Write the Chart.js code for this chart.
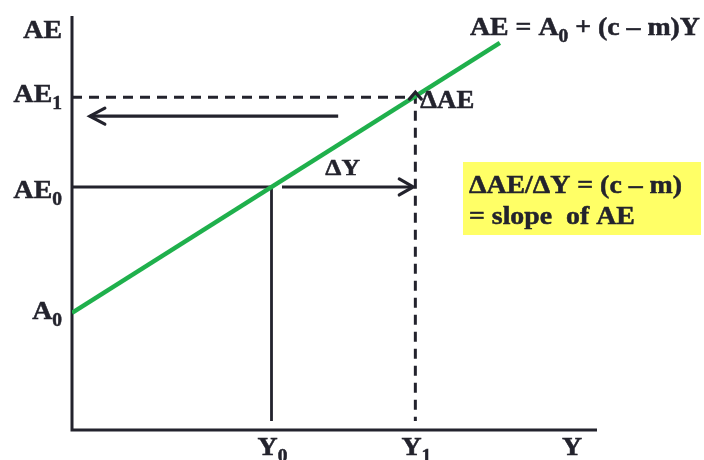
<!DOCTYPE html>
<html><head><meta charset="utf-8">
<script src="https://cdn.jsdelivr.net/npm/chart.js@4/dist/chart.umd.min.js"></script>
<style>html,body{margin:0;padding:0;background:#fff;}#wrap{width:704px;height:460px;position:relative}</style>
</head><body><div id="wrap"><canvas id="c" width="704" height="460"></canvas></div>
<script>
// ---- data ----
const incomeLevels   = [38, 65.4];            // Y0, Y1
const incomeLabels   = ['Y_0', 'Y_1'];
const spendingLevels = [28.3, 58.7, 80.4];    // A0, AE0, AE1
const spendingLabels = ['A_0', 'AE_0', 'AE_1'];
const aeLineX = [0, 81.5];
const aeLineY = [28.3, 93.5];
const shiftArrowX = [50.7, 3.4];
const shiftArrowY = [75.8, 75.8];
const deltaYArrowX = [40, 65];
const deltaYArrowY = [58.7, 58.7];
const guideBottom = 2.2;
const axisNames = ['Y', 'AE'];
const equationText = 'AE = A_0 + (c – m)Y';
const boxLines = ['ΔAE/ΔY = (c – m)', '= slope  of AE'];
const deltaLabels = ['ΔY', 'ΔAE'];

// ---- styles ----
const INK = '#23232d';
const GREEN = '#1fb04c';
const FONT = 'bold {s}px "Liberation Serif", "Times New Roman", serif';
const STRETCH = 1.07;

function pts(xs, ys) { return xs.map((x, i) => ({x, y: ys[i]})); }

function parseRich(str) {
  const parts = [];
  const re = /_(\w)/g;
  let last = 0, m;
  while ((m = re.exec(str)) !== null) {
    if (m.index > last) parts.push({t: str.slice(last, m.index), sub: false});
    parts.push({t: m[1], sub: true});
    last = re.lastIndex;
  }
  if (last < str.length) parts.push({t: str.slice(last), sub: false});
  return parts;
}
function drawRich(ctx, str, x, y, align, size) {
  const parts = parseRich(str);
  let w = 0;
  parts.forEach(p => {
    p.size = p.sub ? size * 0.7 : size;
    ctx.font = FONT.replace('{s}', p.size);
    p.w = ctx.measureText(p.t).width;
    w += p.w;
  });
  w *= STRETCH;
  let x0 = align === 'right' ? x - w : align === 'center' ? x - w / 2 : x;
  ctx.save();
  ctx.translate(x0, y);
  ctx.scale(STRETCH, 1);
  ctx.fillStyle = INK;
  ctx.strokeStyle = INK;
  ctx.lineWidth = 0.5;
  ctx.textBaseline = 'alphabetic';
  ctx.textAlign = 'left';
  let cx = 0;
  parts.forEach(p => {
    ctx.font = FONT.replace('{s}', p.size);
    const dy = p.sub ? size * 0.27 : 0;
    ctx.fillText(p.t, cx, dy);
    ctx.strokeText(p.t, cx, dy);
    cx += p.w;
  });
  ctx.restore();
}
function chevron(ctx, tx, ty, dir, len, half) {
  ctx.save();
  ctx.strokeStyle = INK; ctx.lineWidth = 3.2; ctx.lineCap = 'round'; ctx.lineJoin = 'miter';
  ctx.beginPath();
  if (dir === 'left') { ctx.moveTo(tx + len, ty - half); ctx.lineTo(tx, ty); ctx.lineTo(tx + len, ty + half); }
  if (dir === 'right') { ctx.moveTo(tx - len, ty - half); ctx.lineTo(tx, ty); ctx.lineTo(tx - len, ty + half); }
  if (dir === 'up') { ctx.moveTo(tx - half, ty + len); ctx.lineTo(tx, ty); ctx.lineTo(tx + half, ty + len); }
  ctx.stroke();
  ctx.restore();
}

const decor = {
  id: 'decor',
  beforeDatasetsDraw(chart) {
    const {ctx, chartArea: a} = chart;
    ctx.save();
    // yellow box
    ctx.fillStyle = '#ffff66';
    ctx.fillRect(463, 162, 238, 73);
    ctx.strokeStyle = INK; ctx.lineWidth = 3; ctx.lineCap = 'butt';
    ctx.beginPath();
    ctx.moveTo(a.left, a.top); ctx.lineTo(a.left, a.bottom); ctx.lineTo(a.right, a.bottom);
    ctx.stroke();
    ctx.restore();
  },
  afterDatasetsDraw(chart) {
    const {ctx, chartArea: a, scales: {x, y}} = chart;
    // arrowheads
    chevron(ctx, x.getPixelForValue(shiftArrowX[1]), y.getPixelForValue(shiftArrowY[1]), 'left', 15, 8);
    chevron(ctx, x.getPixelForValue(deltaYArrowX[1]), y.getPixelForValue(deltaYArrowY[1]), 'right', 14, 8);
    chevron(ctx, x.getPixelForValue(incomeLevels[1]), y.getPixelForValue(spendingLevels[2]) - 5, 'up', 7, 6);
    // axis labels
    const lx = a.left - 10;
    drawRich(ctx, axisNames[1], lx, a.top + 22, 'right', 26);
    const offs = [6, 11, 5];
    spendingLevels.forEach((v, i) => drawRich(ctx, spendingLabels[i], lx, y.getPixelForValue(v) + offs[i], 'right', 26));
    incomeLevels.forEach((v, i) => drawRich(ctx, incomeLabels[i], x.getPixelForValue(v) + 1, a.bottom + 25, 'center', 26));
    drawRich(ctx, axisNames[0], 572, a.bottom + 25, 'center', 26);
    // annotations
    drawRich(ctx, equationText, 470, 35, 'left', 26);
    drawRich(ctx, deltaLabels[0], (x.getPixelForValue(deltaYArrowX[0]) + x.getPixelForValue(deltaYArrowX[1])) / 2 - 5, y.getPixelForValue(deltaYArrowY[0]) - 12, 'center', 24);
    drawRich(ctx, deltaLabels[1], x.getPixelForValue(incomeLevels[1]) + 5, y.getPixelForValue(spendingLevels[2]) + 11, 'left', 25);
    drawRich(ctx, boxLines[0], 469, 193, 'left', 26);
    drawRich(ctx, boxLines[1], 469, 224, 'left', 26);
  }
};

new Chart(document.getElementById('c'), {
  type: 'scatter',
  data: {
    datasets: [
      { data: pts(aeLineX, aeLineY), showLine: true, borderColor: GREEN, borderWidth: 4.5, pointRadius: 0, borderCapStyle: 'butt' },
      { data: pts([0, incomeLevels[0], incomeLevels[0]], [spendingLevels[1], spendingLevels[1], guideBottom]), showLine: true, borderColor: INK, borderWidth: 2.8, pointRadius: 0 },
      { data: pts([0, incomeLevels[1], incomeLevels[1]], [spendingLevels[2], spendingLevels[2], guideBottom]), showLine: true, borderColor: INK, borderWidth: 3, borderDash: [10, 7], pointRadius: 0 },
      { data: pts(shiftArrowX, shiftArrowY), showLine: true, borderColor: INK, borderWidth: 3.2, pointRadius: 0 },
      { data: pts(deltaYArrowX, deltaYArrowY), showLine: true, borderColor: INK, borderWidth: 3.2, pointRadius: 0 }
    ]
  },
  options: {
    responsive: false,
    animation: false,
    layout: { padding: { left: 72, right: 107, top: 16, bottom: 30 } },
    plugins: { legend: { display: false }, tooltip: { enabled: false } },
    scales: {
      x: { type: 'linear', min: 0, max: 100, display: false },
      y: { type: 'linear', min: 0, max: 100, display: false }
    }
  },
  plugins: [decor]
});
</script>
</body></html>
